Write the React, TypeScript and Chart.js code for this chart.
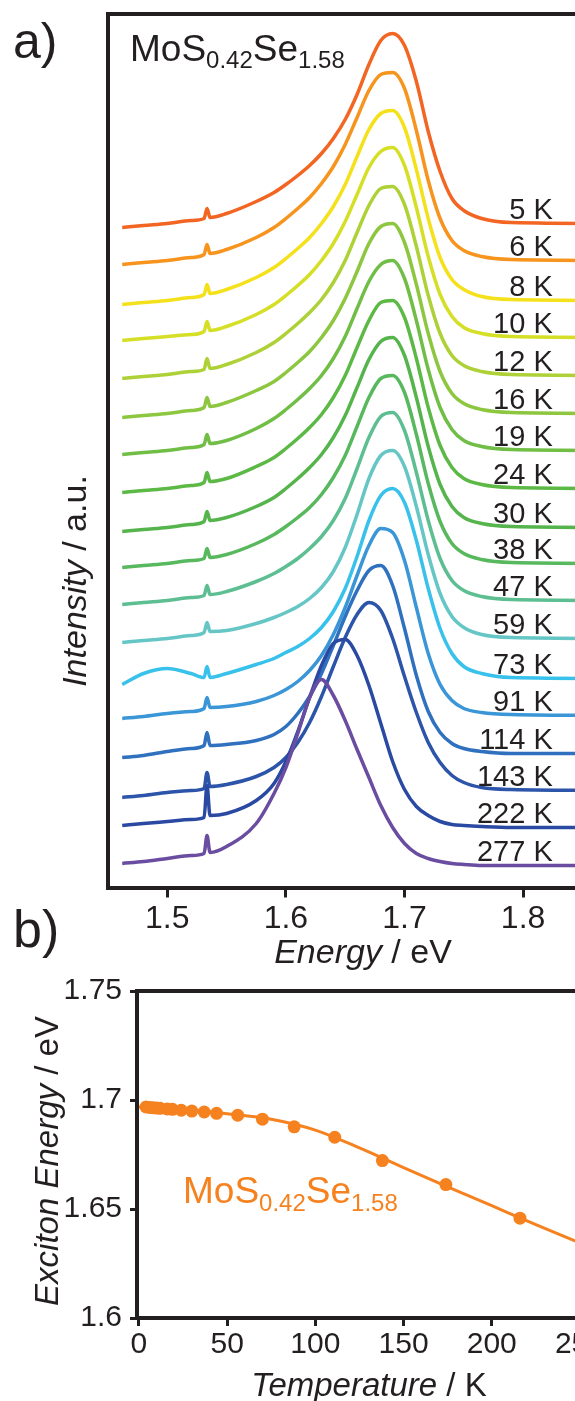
import React, { useEffect, useRef } from "react";
import { Chart, registerables } from "chart.js";

Chart.register(...registerables);

// ---------------- Panel a: stacked PL spectra ----------------
const energies = [1.462, 1.48, 1.5, 1.52, 1.531, 1.5335, 1.536, 1.55, 1.575, 1.59, 1.6, 1.61, 1.62, 1.63, 1.64, 1.65, 1.66, 1.67, 1.68, 1.69, 1.7, 1.71, 1.72, 1.73, 1.74, 1.75, 1.765, 1.79, 1.88];
const energyTicks = [1.5, 1.6, 1.7, 1.8];
const tempLabels = ["5 K", "6 K", "8 K", "10 K", "12 K", "16 K", "19 K", "24 K", "30 K", "38 K", "47 K", "59 K", "73 K", "91 K", "114 K", "143 K", "222 K", "277 K"];
const offsets = [664, 627, 587, 550, 512, 474, 437, 399, 360, 324, 287, 249, 209, 172, 134, 97, 60, 22];
const curveColors = ["#F26522", "#F7941D", "#F5E11B", "#D5DF25", "#ADD136", "#8DC63F", "#70BE45", "#5DB946", "#55B54C", "#58B85E", "#5DBE92", "#66C6C6", "#38C1EA", "#3A96D6", "#2F70BF", "#2C54A9", "#2A49A3", "#6A4DA0"];

const pl5K = [-4, -2, 0, 3, 5, 15, 6, 10, 22, 31, 39, 48, 58, 70, 85, 104, 129, 159, 183, 190, 178, 142, 92, 52, 25, 13, 5, 1, 0];
const pl6K = [-4, -2, 0, 3, 6, 16, 7, 11, 23, 33, 42, 52, 63, 77, 94, 116, 143, 170, 186, 188, 172, 130, 80, 42, 20, 10, 4, 1, 0];
const pl8K = [-4, -2, 0, 3, 6, 16, 7, 11, 23, 33, 42, 52, 63, 77, 94, 116, 144, 171, 187, 190, 173, 131, 82, 43, 21, 11, 4, 1, 0];
const pl10K = [-3, -1, 1, 3, 6, 16, 7, 11, 23, 33, 42, 52, 63, 77, 94, 116, 143, 170, 186, 190, 172, 130, 81, 43, 21, 10, 4, 1, 0];
const pl12K = [-3, -1, 1, 4, 6, 17, 7, 11, 23, 33, 42, 52, 63, 76, 93, 115, 143, 170, 187, 189, 171, 129, 80, 42, 20, 10, 4, 1, 0];
const pl16K = [-4, -2, 0, 3, 6, 16, 7, 11, 23, 32, 41, 51, 62, 76, 93, 115, 142, 170, 187, 190, 171, 129, 80, 42, 20, 10, 4, 1, 0];
const pl19K = [-4, -2, 0, 3, 6, 16, 7, 10, 22, 32, 41, 51, 62, 75, 92, 114, 142, 169, 186, 190, 172, 130, 81, 43, 21, 10, 4, 1, 0];
const pl24K = [-4, -2, 0, 3, 6, 16, 7, 10, 22, 31, 40, 50, 61, 74, 91, 113, 141, 168, 186, 188, 171, 130, 81, 43, 21, 10, 4, 1, 0];
const pl30K = [-4, -2, 0, 3, 6, 16, 7, 10, 21, 30, 39, 49, 60, 73, 90, 112, 140, 168, 186, 190, 172, 130, 81, 43, 21, 10, 4, 1, 0];
const pl38K = [-4, -2, 0, 3, 5, 15, 6, 9, 20, 29, 37, 46, 56, 69, 86, 108, 137, 166, 185, 188, 171, 129, 80, 42, 20, 10, 4, 1, 0];
const pl47K = [-4, -2, 0, 3, 5, 15, 6, 9, 19, 27, 34, 42, 52, 64, 80, 102, 132, 163, 184, 188, 170, 128, 80, 42, 20, 10, 4, 1, 0];
const pl59K = [-4, -2, 0, 3, 6, 16, 7, 8, 15, 21, 26, 32, 40, 51, 67, 91, 124, 160, 183, 188, 172, 132, 84, 45, 22, 11, 4, 1, 0];
const pl73K = [-6, 5, 10, 5, 1, 12, 1, 5, 14, 20, 26, 32, 40, 51, 67, 90, 122, 158, 183, 190, 176, 138, 90, 50, 25, 12, 5, 1, 0];
const pl91K = [-3, -1, 2, 4, 7, 18, 8, 9, 14, 20, 26, 34, 45, 60, 81, 108, 140, 170, 187, 183, 155, 108, 62, 31, 15, 7, 3, 1, 0];
const pl114K = [-4, -2, 2, 5, 8, 21, 8, 9, 13, 19, 27, 40, 57, 80, 108, 137, 163, 183, 188, 168, 125, 78, 42, 21, 10, 5, 2, 0, 0];
const pl143K = [-7, -5, -2, 0, 2, 18, 4, 6, 14, 23, 33, 48, 68, 94, 124, 153, 176, 188, 180, 152, 114, 78, 48, 28, 15, 8, 3, 1, 0];
const pl222K = [2, 4, 6, 8, 10, 42, 12, 14, 27, 44, 66, 96, 130, 162, 184, 188, 172, 142, 104, 66, 38, 21, 12, 6, 3, 2, 1, 0, 0];
const pl277K = [2, 4, 7, 10, 12, 30, 13, 19, 42, 72, 98, 132, 168, 186, 170, 145, 116, 88, 60, 38, 22, 12, 7, 4, 2, 1, 0, 0, 0];

const spectra = [pl5K, pl6K, pl8K, pl10K, pl12K, pl16K, pl19K, pl24K, pl30K, pl38K, pl47K, pl59K, pl73K, pl91K, pl114K, pl143K, pl222K, pl277K];

// ---------------- Panel b: exciton energy vs temperature ----------------
const tempK = [4, 6, 8, 10, 12, 16, 19, 24, 30, 37, 44, 56, 70, 88, 111, 138, 174, 216];
const excitonE = [1.6968, 1.6966, 1.6965, 1.6963, 1.6962, 1.6959, 1.6957, 1.6953, 1.6949, 1.6945, 1.6939, 1.693, 1.6912, 1.6877, 1.6829, 1.6722, 1.6612, 1.6458];
const fitT = [0, 25, 50, 75, 100, 125, 150, 175, 200, 225, 250, 275];
const fitE = [1.6968, 1.6956, 1.6937, 1.6912, 1.6862, 1.678, 1.669, 1.6602, 1.6515, 1.6428, 1.6345, 1.6262];
const tempTicks = [0, 50, 100, 150, 200, 250];
const excitonTicks = [1.6, 1.65, 1.7, 1.75];
const excitonTickLabels = ["1.6", "1.65", "1.7", "1.75"];

// ---------------- styling ----------------
const FAMILY = "'Liberation Sans', Arial, Helvetica, sans-serif";
const INK = "#231F20";
const ORANGE = "#F5821F";

type Run = { t: string; size: number; italic?: boolean; dy?: number };

function drawRuns(ctx: CanvasRenderingContext2D, runs: Run[], x: number, y: number, align: "left" | "center", color: string) {
  ctx.save();
  ctx.textAlign = "left";
  ctx.textBaseline = "alphabetic";
  ctx.fillStyle = color;
  let total = 0;
  for (const r of runs) {
    ctx.font = `${r.italic ? "italic " : ""}${r.size}px ${FAMILY}`;
    total += ctx.measureText(r.t).width;
  }
  let cx = align === "center" ? x - total / 2 : x;
  for (const r of runs) {
    ctx.font = `${r.italic ? "italic " : ""}${r.size}px ${FAMILY}`;
    ctx.fillText(r.t, cx, y + (r.dy || 0));
    cx += ctx.measureText(r.t).width;
  }
  ctx.restore();
}

function drawRotated(ctx: CanvasRenderingContext2D, runs: Run[], x: number, y: number, color: string) {
  ctx.save();
  ctx.translate(x, y);
  ctx.rotate(-Math.PI / 2);
  drawRuns(ctx, runs, 0, 0, "center", color);
  ctx.restore();
}

const LABEL_ENERGY = 1.825;

const textPluginA = {
  id: "textA",
  afterDraw(chart: any) {
    const ctx = chart.ctx as CanvasRenderingContext2D;
    const xs = chart.scales.x;
    const ys = chart.scales.y;
    drawRuns(ctx, [{ t: "a)", size: 50 }], 13, 58, "left", INK);
    drawRuns(
      ctx,
      [
        { t: "MoS", size: 37 },
        { t: "0.42", size: 24, dy: 7 },
        { t: "Se", size: 37 },
        { t: "1.58", size: 24, dy: 7 },
      ],
      130,
      61,
      "left",
      INK
    );
    ctx.save();
    ctx.font = `29px ${FAMILY}`;
    ctx.fillStyle = INK;
    ctx.textAlign = "right";
    ctx.textBaseline = "alphabetic";
    tempLabels.forEach((lab, i) => {
      ctx.fillText(lab, xs.getPixelForValue(LABEL_ENERGY), ys.getPixelForValue(offsets[i] + 5));
    });
    ctx.restore();
    drawRotated(ctx, [{ t: "Intensity", size: 34, italic: true }, { t: " / a.u.", size: 34 }], 86, 581, INK);
    drawRuns(ctx, [{ t: "Energy", size: 34, italic: true }, { t: " / eV", size: 34 }], 363, 963, "center", INK);
    drawRuns(ctx, [{ t: "b)", size: 52 }], 13, 947, "left", INK);
  },
};

const textPluginB = {
  id: "textB",
  afterDraw(chart: any) {
    const ctx = chart.ctx as CanvasRenderingContext2D;
    drawRotated(ctx, [{ t: "Exciton Energy", size: 33, italic: true }, { t: " / eV", size: 33 }], 58, 196, INK);
    drawRuns(ctx, [{ t: "Temperature", size: 33, italic: true }, { t: " / K", size: 33 }], 369, 431, "center", INK);
    drawRuns(
      ctx,
      [
        { t: "MoS", size: 37 },
        { t: "0.42", size: 24, dy: 8 },
        { t: "Se", size: 37 },
        { t: "1.58", size: 24, dy: 8 },
      ],
      183,
      238,
      "left",
      ORANGE
    );
  },
};

function configA(): any {
  const n = spectra.length;
  return {
    type: "line",
    data: {
      datasets: spectra.map((s, i) => ({
        label: tempLabels[i],
        data: energies.map((e, j) => ({ x: e, y: offsets[i] + s[j] })),
        borderColor: curveColors[i],
        borderWidth: 3.5,
        pointRadius: 0,
        fill: false,
        cubicInterpolationMode: "monotone",
        order: n - i,
      })),
    },
    options: {
      animation: false,
      responsive: false,
      maintainAspectRatio: false,
      devicePixelRatio: 1,
      layout: { padding: { left: 0, right: 22, top: 0, bottom: 0 } },
      plugins: { legend: { display: false }, tooltip: { enabled: false } },
      scales: {
        x: {
          type: "linear",
          position: "bottom",
          min: 1.45,
          max: 1.88,
          afterBuildTicks: (axis: any) => {
            axis.ticks = energyTicks.map((v) => ({ value: v }));
          },
          afterFit: (axis: any) => {
            axis.height = 92.5;
          },
          ticks: {
            autoSkip: false,
            maxRotation: 0,
            padding: 2,
            color: INK,
            font: { family: FAMILY, size: 32 },
            callback: (v: any) => Number(v).toFixed(1),
          },
          grid: { display: true, drawOnChartArea: false, drawTicks: true, tickLength: 10, tickWidth: 3, tickColor: INK },
          border: { display: true, width: 4, color: INK },
        },
        xTop: {
          type: "linear",
          position: "top",
          min: 1.45,
          max: 1.88,
          ticks: { display: false },
          grid: { display: false },
          border: { display: true, width: 4, color: INK },
          afterFit: (axis: any) => {
            axis.height = 13.5;
          },
        },
        y: {
          type: "linear",
          position: "left",
          min: 0,
          max: 874,
          ticks: { display: false },
          grid: { display: false },
          border: { display: true, width: 4, color: INK },
          afterFit: (axis: any) => {
            axis.width = 108;
          },
        },
      },
    },
    plugins: [textPluginA],
  };
}

function configB(): any {
  return {
    type: "line",
    data: {
      datasets: [
        {
          label: "points",
          data: tempK.map((t, i) => ({ x: t, y: excitonE[i] })),
          showLine: false,
          pointRadius: 6.5,
          pointBackgroundColor: ORANGE,
          pointBorderWidth: 0,
          borderColor: ORANGE,
        },
        {
          label: "fit",
          data: fitT.map((t, i) => ({ x: t, y: fitE[i] })),
          borderColor: ORANGE,
          borderWidth: 3,
          pointRadius: 0,
          fill: false,
          cubicInterpolationMode: "monotone",
        },
      ],
    },
    options: {
      animation: false,
      responsive: false,
      maintainAspectRatio: false,
      devicePixelRatio: 1,
      layout: { padding: { left: 0, right: 38, top: 0, bottom: 0 } },
      plugins: { legend: { display: false }, tooltip: { enabled: false } },
      scales: {
        x: {
          type: "linear",
          position: "bottom",
          min: -1.1,
          max: 262.5,
          afterBuildTicks: (axis: any) => {
            axis.ticks = tempTicks.map((v) => ({ value: v }));
          },
          afterFit: (axis: any) => {
            axis.height = 83;
          },
          ticks: {
            autoSkip: false,
            maxRotation: 0,
            padding: 1,
            color: INK,
            font: { family: FAMILY, size: 30 },
            callback: (v: any) => String(v),
          },
          grid: { display: true, drawOnChartArea: false, drawTicks: true, tickLength: 8, tickWidth: 3, tickColor: INK },
          border: { display: true, width: 4, color: INK },
        },
        xTop: {
          type: "linear",
          position: "top",
          min: -1.1,
          max: 262.5,
          ticks: { display: false },
          grid: { display: false },
          border: { display: true, width: 4, color: INK },
          afterFit: (axis: any) => {
            axis.height = 25.5;
          },
        },
        y: {
          type: "linear",
          position: "left",
          min: 1.6,
          max: 1.75,
          afterBuildTicks: (axis: any) => {
            axis.ticks = excitonTicks.map((v) => ({ value: v }));
          },
          afterFit: (axis: any) => {
            axis.width = 137;
          },
          ticks: {
            autoSkip: false,
            padding: 8,
            color: INK,
            font: { family: FAMILY, size: 30 },
            callback: (_v: any, idx: number) => excitonTickLabels[idx],
          },
          grid: { display: true, drawOnChartArea: false, drawTicks: true, tickLength: 7, tickWidth: 3, tickColor: INK },
          border: { display: true, width: 4, color: INK },
        },
      },
    },
    plugins: [textPluginB],
  };
}

export default function App() {
  const refA = useRef<HTMLCanvasElement>(null);
  const refB = useRef<HTMLCanvasElement>(null);
  useEffect(() => {
    const a = new Chart(refA.current as HTMLCanvasElement, configA());
    const b = new Chart(refB.current as HTMLCanvasElement, configB());
    return () => {
      a.destroy();
      b.destroy();
    };
  }, []);
  return (
    <div style={{ position: "absolute", left: 0, top: 0, width: 575, height: 1401, overflow: "hidden", background: "#ffffff" }}>
      <canvas ref={refA} width={640} height={980} style={{ position: "absolute", left: 0, top: 0, width: 640, height: 980 }} />
      <canvas ref={refB} width={640} height={436} style={{ position: "absolute", left: 0, top: 965, width: 640, height: 436 }} />
    </div>
  );
}
